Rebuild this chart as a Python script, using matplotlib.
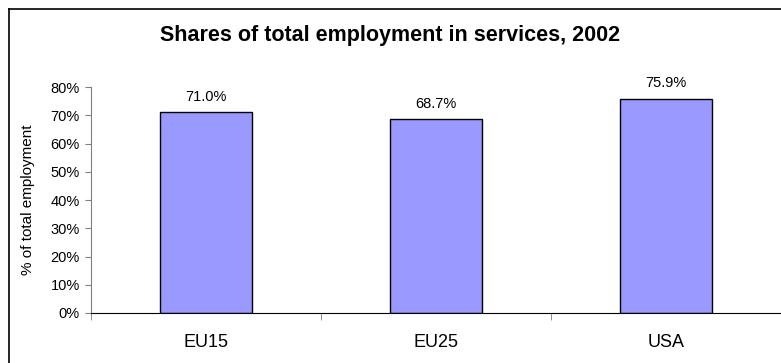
import numpy as np
import matplotlib.pyplot as plt
from matplotlib.lines import Line2D
from matplotlib.ticker import PercentFormatter

regions = ["EU15", "EU25", "USA"]
shares = [71.0, 68.7, 75.9]
title = "Shares of total employment in services, 2002"

plt.rcParams['font.family'] = ['Liberation Sans', 'DejaVu Sans']

fig = plt.figure(figsize=(7.81, 3.63), dpi=100)
ax = fig.add_axes([91 / 781, 1 - 313 / 363, 1 - 91 / 781, (313 - 87) / 363])

x = np.arange(len(regions))
bars = ax.bar(x, shares, width=0.4, color="#9999ff", edgecolor="black", linewidth=1.0)
for b, v in zip(bars, shares):
    ax.annotate(f"{v:.1f}%", (b.get_x() + b.get_width() / 2, v), xytext=(0, 6),
                textcoords="offset points", ha="center", va="bottom", fontsize=10.5)

ax.set_xlim(-0.5, 2.5)
ax.set_ylim(0, 80)
ax.set_yticks(np.arange(0, 81, 10))
ax.yaxis.set_major_formatter(PercentFormatter(decimals=0))
ax.set_xticks(x)
ax.set_xticklabels(regions, fontsize=13)
ax.set_xticks([-0.5, 0.5, 1.5, 2.5], minor=True)
ax.tick_params(axis="x", which="major", length=0, pad=15)
ax.tick_params(axis="x", which="minor", length=5, direction="out", color="#808080")
ax.tick_params(axis="y", labelsize=10.5, length=4, color="#808080", pad=4)
ax.set_ylabel("% of total employment", fontsize=11, labelpad=11)

for s in ["top", "right"]:
    ax.spines[s].set_visible(False)
ax.spines["left"].set_color("#808080")
ax.spines["bottom"].set_color("black")

fig.text(0.5, 1 - 36 / 363, title, ha="center", va="center", fontsize=15.5, fontweight="bold")

# outer chart frame (cut off at right and bottom)
fig.add_artist(Line2D([8.5 / 781, 8.5 / 781], [0, 1 - 9 / 363], transform=fig.transFigure, color="black", lw=1.2))
fig.add_artist(Line2D([8.5 / 781, 1], [1 - 9 / 363, 1 - 9 / 363], transform=fig.transFigure, color="black", lw=1.2))

fig.savefig("out.png", dpi=100)
